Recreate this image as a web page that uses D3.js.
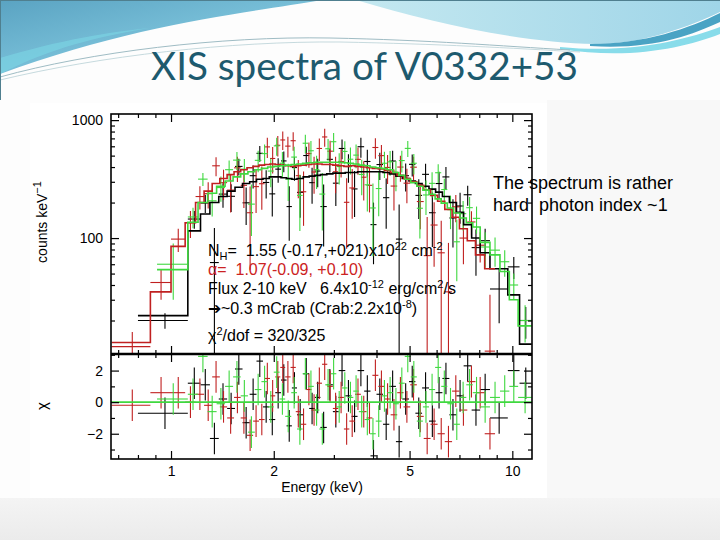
<!DOCTYPE html>
<html><head><meta charset="utf-8">
<script src="https://cdn.jsdelivr.net/npm/d3@7"></script>
<style>body{margin:0;background:#fff}svg{display:block}</style>
</head><body><svg id="c" width="720" height="540"></svg>
<script>
// ---------- DATA (energies in keV, rates in counts/keV) ----------
const blackEdges = [0.80,1.12,1.22,1.30,1.38,1.46,1.54,1.62,1.70,1.78,1.86,1.94,2.02,2.10,2.18,2.26,2.34,2.44,2.54,2.64,2.74,2.86,2.98,3.10,3.24,3.38,3.52,3.68,3.84,4.00,4.18,4.36,4.56,4.76,4.98,5.20,5.44,5.70,5.96,6.24,6.54,6.86,7.20,7.60,8.05,8.60,9.70,10.5,11.4];
const blackModel = [22,115,160,200,225,250,270,290,300,315,320,330,330,325,320,315,320,330,335,340,345,350,355,355,360,360,365,365,365,365,360,350,335,320,305,290,275,260,245,225,200,165,130,100,75,55,33,12.6];
const blackRate = [20,145,198,62,236,226,405,199,338,523,296,237,384,451,185,396,244,501,295,370,185,465,292,575,404,261,595,446,130,420,220,450,98,338,422,230,347,164,290,330,148,187,233,83,95,37,57,20];
const blackErr = [3,25,35,60,55,60,65,70,75,80,80,85,90,90,90,90,95,95,100,100,100,105,105,110,110,110,115,115,70,110,100,100,95,90,90,85,80,80,75,70,65,55,45,35,25,18,12,6];
const blackChi = [-0.7,1.2,1.1,-2.3,0.2,-0.4,2.1,-1.3,0.5,2.6,-0.3,-1.1,0.6,1.4,-1.5,0.9,-0.8,1.8,-0.4,0.3,-1.6,1.1,-0.6,2.0,0.4,-0.9,2.0,0.7,-3.4,0.5,-1.4,1.0,-2.5,0.2,1.3,-0.7,0.9,-1.2,0.6,1.5,-0.8,0.4,2.3,-0.5,0.8,-1.0,2.0,1.2];

const redEdges = [0.67,0.87,1.00,1.10,1.18,1.25,1.32,1.39,1.46,1.53,1.60,1.67,1.74,1.81,1.88,1.95,2.02,2.09,2.16,2.24,2.32,2.40,2.49,2.58,2.67,2.77,2.87,2.98,3.09,3.21,3.33,3.46,3.60,3.74,3.89,4.05,4.22,4.40,4.60,4.80,5.02,5.25,5.50,5.76,6.04,6.34,6.66,7.00,7.38,7.80,8.30,8.90];
const redModel = [13,35,85,135,200,250,290,320,345,365,380,395,405,415,420,425,420,415,410,405,410,415,420,425,425,420,420,415,410,405,410,405,400,395,390,385,375,360,340,320,300,280,255,230,205,175,150,120,95,72,55];
const redRate = [12,42,98,135,225,238,410,295,255,394,280,164,273,289,593,473,612,679,602,669,338,247,520,363,575,720,545,365,446,201,266,465,328,280,586,500,397,276,400,292,399,204,71,129,75,35,184,100,137,87,11];
const redErr = [4,12,22,35,50,60,75,85,90,95,100,110,110,115,115,120,120,120,120,120,120,120,125,125,125,125,125,125,120,120,120,120,120,115,115,115,110,105,100,95,90,85,80,72,65,56,48,40,32,25,22];
const redChi = [-0.2,0.6,0.6,0.0,0.5,-0.2,1.6,-0.3,-1.0,0.3,-1.0,-2.1,-1.2,-1.1,1.5,0.4,1.6,2.2,1.6,2.2,-0.6,-1.4,0.8,-0.5,1.2,2.4,1.0,-0.4,0.3,-1.7,-1.2,0.5,-0.6,-1.0,1.7,1.0,0.2,-0.8,0.6,-0.3,1.1,-0.9,-2.3,-1.4,-2.0,-2.5,0.7,-0.5,1.3,0.6,-2.0];

const greenEdges = [0.91,1.12,1.20,1.28,1.36,1.44,1.52,1.60,1.68,1.76,1.84,1.92,2.00,2.08,2.16,2.25,2.34,2.43,2.52,2.62,2.72,2.83,2.94,3.05,3.17,3.29,3.42,3.55,3.69,3.83,3.98,4.14,4.30,4.47,4.65,4.84,5.04,5.25,5.47,5.70,5.94,6.19,6.45,6.73,7.02,7.33,7.66,8.05,8.60,9.20,9.80,10.4,11.4];
const greenModel = [54,136,200,240,275,305,330,350,365,380,390,400,405,410,415,420,425,430,435,440,440,440,440,440,435,430,425,415,410,400,395,388,380,360,340,315,295,275,255,235,215,198,180,163,148,135,124,92,72,52,30,18];
const greenRate = [60,151,316,207,268,380,458,384,194,456,520,370,605,431,316,486,230,637,550,380,236,572,656,404,543,466,505,346,283,180,263,431,443,350,454,576,431,179,232,291,358,258,174,93,161,181,147,84,79,63,40,20];
const greenErr = [30,30,40,55,65,75,80,85,90,95,100,100,105,105,110,110,115,115,115,120,120,120,120,120,120,120,115,115,115,110,110,108,105,100,95,90,85,80,75,70,65,60,55,50,45,42,38,28,22,16,10,7];
const greenChi = [0.2,0.5,2.9,-0.6,-0.1,1.0,1.6,0.4,-1.9,0.8,1.3,-0.3,1.9,0.2,-0.9,0.6,-1.7,1.8,1.0,-0.5,-1.7,1.1,1.8,-0.3,0.9,0.3,0.7,-0.6,-1.1,-2.0,-1.2,0.4,0.6,-0.1,1.2,2.9,1.6,-1.2,-0.3,0.8,2.2,1.0,-0.1,-1.4,0.3,1.1,0.6,-0.3,0.3,0.7,1.0,0.3];

const xMajorTicks = [1, 2, 5, 10];
const xMinorTicks = [0.7, 0.8, 0.9, 3, 4, 6, 7, 8, 9];
const yMajorTicks = [100, 1000];
const yMinorTicks = [20, 30, 40, 50, 60, 70, 80, 90, 200, 300, 400, 500, 600, 700, 800, 900];
const chiMajorTicks = [-2, 0, 2];
const chiMinorTicks = [-3, -1, 1, 3];

const titleText = "XIS spectra of V0332+53";
const sideText = ["The spectrum is rather", "hard  photon index ~1"];

// ---------- SETUP ----------
const svg = d3.select("#c");
const FONT = "'Liberation Sans', Arial, Helvetica, sans-serif";
const defs = svg.append("defs");

const gl = defs.append("linearGradient").attr("id","gl").attr("x1",0).attr("y1",0).attr("x2",1).attr("y2",1);
gl.append("stop").attr("offset",0).attr("stop-color","#5aa3c2");
gl.append("stop").attr("offset",0.5).attr("stop-color","#78bfd8");
gl.append("stop").attr("offset",1).attr("stop-color","#94d3e6");
const gr = defs.append("linearGradient").attr("id","gr").attr("x1",0).attr("y1",0).attr("x2",1).attr("y2",0);
gr.append("stop").attr("offset",0).attr("stop-color","#c4e8f0");
gr.append("stop").attr("offset",1).attr("stop-color","#9fd5e8");
const gb = defs.append("linearGradient").attr("id","gb").attr("x1",0).attr("y1",0).attr("x2",0).attr("y2",1);
gb.append("stop").attr("offset",0).attr("stop-color","#f4f4f4");
gb.append("stop").attr("offset",1).attr("stop-color","#ebebeb");

// slide background
svg.append("rect").attr("width",720).attr("height",540).attr("fill","#fdfdfd");
svg.append("rect").attr("x",547).attr("y",100).attr("width",173).attr("height",398).attr("fill","#f8f8f8");
svg.append("rect").attr("y",498).attr("width",720).attr("height",42).attr("fill","url(#gb)");
// swooshes
svg.append("path").attr("d","M0,0 L322,0 C255,12 140,22 0,74 Z").attr("fill","url(#gl)");
svg.append("path").attr("d","M0,58 C60,40 110,32 150,28 C100,36 50,48 0,74 Z").attr("fill","#7ad3e3").attr("opacity",0.7);
svg.append("path").attr("d","M356,0 L720,0 L720,12 C690,26 645,44 595,44 C520,43 430,22 356,0 Z").attr("fill","url(#gr)");
svg.append("path").attr("d","M590,44 C645,44 690,28 720,13 L720,22 C690,36 650,50 590,46 Z").attr("fill","#4aa3c4");
svg.append("path").attr("d","M560,47 C630,54 685,40 720,27 L720,34 C684,48 630,60 560,49 Z").attr("fill","#88dcea");
svg.append("path").attr("d","M0,77 C90,52 220,36 330,38 C430,40 500,46 570,50").attr("fill","none").attr("stroke","#9fbcc4").attr("stroke-width",1);
svg.append("path").attr("d","M0,80 C100,56 230,41 340,42 C440,44 510,48 580,52").attr("fill","none").attr("stroke","#b8d0d6").attr("stroke-width",0.8);
svg.append("line").attr("x1",0).attr("y1",0.5).attr("x2",720).attr("y2",0.5).attr("stroke","#4f7f8f");
svg.append("line").attr("x1",0.5).attr("y1",0).attr("x2",0.5).attr("y2",100).attr("stroke","#4f7f8f");

// title
const title = svg.append("text").attr("x",364.5).attr("y",80).attr("text-anchor","middle")
  .attr("font-family","Lato, 'Open Sans', sans-serif").attr("font-size",36).attr("fill","#1d5a6e").text(titleText);
const tl = title.node().getComputedTextLength();
title.attr("font-size", 36*427/tl);

// chart image background
svg.append("rect").attr("x",30).attr("y",103).attr("width",517).attr("height",395).attr("fill","#ffffff");

// scales
const x = d3.scaleLog().domain([0.667, 11.42]).range([111, 532]);
const yU = d3.scaleLog().domain([10.4, 1127]).range([354, 114]);
const yL = d3.scaleLinear().domain([-3.6, 3.05]).range([459, 354]);

defs.append("clipPath").attr("id","cu").append("rect").attr("x",111).attr("y",114).attr("width",421).attr("height",240);
defs.append("clipPath").attr("id","cl").append("rect").attr("x",111).attr("y",354).attr("width",421).attr("height",105);

const upper = svg.append("g").attr("clip-path","url(#cu)");
const lower = svg.append("g").attr("clip-path","url(#cl)");

const series = [
  {edges: blackEdges, rate: blackRate, err: blackErr, model: blackModel, chi: blackChi, color: "#000000"},
  {edges: redEdges, rate: redRate, err: redErr, model: redModel, chi: redChi, color: "#c02020"},
  {edges: greenEdges, rate: greenRate, err: greenErr, model: greenModel, chi: greenChi, color: "#3fd83f"}
];
series.forEach(s => {
  s.bins = d3.range(s.rate.length).map(i => ({lo: s.edges[i], hi: s.edges[i+1], r: s.rate[i], e: s.err[i], m: s.model[i], c: s.chi[i]}));
});

// data crosses
series.forEach(s => {
  const g = upper.append("g").attr("stroke", s.color).attr("stroke-width",1.1);
  g.append("g").selectAll("line").data(s.bins).join("line")
    .attr("x1", d => x(d.lo)).attr("x2", d => x(d.hi))
    .attr("y1", d => yU(d.r)).attr("y2", d => yU(d.r));
  g.append("g").selectAll("line").data(s.bins).join("line")
    .attr("x1", d => x((d.lo+d.hi)/2)).attr("x2", d => x((d.lo+d.hi)/2))
    .attr("y1", d => yU(Math.max(d.r - d.e, 1))).attr("y2", d => yU(d.r + d.e));
});
// model steps
series.forEach(s => {
  const pts = [];
  s.bins.forEach(d => { pts.push([x(d.lo), yU(d.m)]); pts.push([x(d.hi), yU(d.m)]); });
  upper.append("path").attr("d", d3.line()(pts)).attr("fill","none").attr("stroke", s.color).attr("stroke-width",1.6);
});
// residuals
series.forEach(s => {
  const g = lower.append("g").attr("stroke", s.color).attr("stroke-width",1.1);
  g.append("g").selectAll("line").data(s.bins).join("line")
    .attr("x1", d => x(d.lo)).attr("x2", d => x(d.hi))
    .attr("y1", d => yL(d.c)).attr("y2", d => yL(d.c));
  g.append("g").selectAll("line").data(s.bins).join("line")
    .attr("x1", d => x((d.lo+d.hi)/2)).attr("x2", d => x((d.lo+d.hi)/2))
    .attr("y1", d => yL(d.c - 1)).attr("y2", d => yL(d.c + 1));
});
lower.append("line").attr("x1",111).attr("x2",532).attr("y1",yL(0)).attr("y2",yL(0)).attr("stroke","#3fd83f").attr("stroke-width",1.6);

// axes
function styleAxis(g){ g.select(".domain").remove(); g.selectAll(".tick line").attr("stroke","#000").attr("stroke-width",1.2);
  g.selectAll("text").attr("font-family",FONT).attr("font-size",14).attr("fill","#000"); }
function ax(gen, tx, ty){ svg.append("g").attr("transform",`translate(${tx},${ty})`).call(gen).call(styleAxis); }
const none = () => "";
// upper panel
ax(d3.axisLeft(yU).tickValues(yMajorTicks).tickSize(-8).tickPadding(8).tickFormat(d3.format("d")), 111, 0);
ax(d3.axisLeft(yU).tickValues(yMinorTicks).tickSize(-4).tickFormat(none), 111, 0);
ax(d3.axisRight(yU).tickValues(yMajorTicks).tickSize(-8).tickFormat(none), 532, 0);
ax(d3.axisRight(yU).tickValues(yMinorTicks).tickSize(-4).tickFormat(none), 532, 0);
ax(d3.axisTop(x).tickValues(xMajorTicks).tickSize(-8).tickFormat(none), 0, 114);
ax(d3.axisTop(x).tickValues(xMinorTicks).tickSize(-4).tickFormat(none), 0, 114);
ax(d3.axisBottom(x).tickValues(xMajorTicks).tickSize(-8).tickFormat(none), 0, 354);
ax(d3.axisBottom(x).tickValues(xMinorTicks).tickSize(-4).tickFormat(none), 0, 354);
// lower panel
ax(d3.axisTop(x).tickValues(xMajorTicks).tickSize(-8).tickFormat(none), 0, 354);
ax(d3.axisTop(x).tickValues(xMinorTicks).tickSize(-4).tickFormat(none), 0, 354);
ax(d3.axisBottom(x).tickValues(xMajorTicks).tickSize(-8).tickPadding(7).tickFormat(d3.format("d")), 0, 459);
ax(d3.axisBottom(x).tickValues(xMinorTicks).tickSize(-4).tickFormat(none), 0, 459);
ax(d3.axisLeft(yL).tickValues(chiMajorTicks).tickSize(-8).tickPadding(8).tickFormat(d => d < 0 ? "\u2212" + Math.abs(d) : String(d)), 111, 0);
ax(d3.axisLeft(yL).tickValues(chiMinorTicks).tickSize(-4).tickFormat(none), 111, 0);
ax(d3.axisRight(yL).tickValues(chiMajorTicks).tickSize(-8).tickFormat(none), 532, 0);
ax(d3.axisRight(yL).tickValues(chiMinorTicks).tickSize(-4).tickFormat(none), 532, 0);

// frames
svg.append("rect").attr("x",111).attr("y",114).attr("width",421).attr("height",345).attr("fill","none").attr("stroke","#000").attr("stroke-width",1.6);
svg.append("line").attr("x1",111).attr("x2",532).attr("y1",354).attr("y2",354).attr("stroke","#000").attr("stroke-width",2.6);

// axis titles
const yt = svg.append("text").attr("transform","translate(47,222) rotate(-90)").attr("text-anchor","middle")
  .attr("font-family",FONT).attr("font-size",14).attr("fill","#000");
yt.append("tspan").text("counts keV");
yt.append("tspan").attr("dy",-6).attr("font-size",11).text("\u22121");
svg.append("text").attr("transform","translate(47,406) rotate(-90)").attr("text-anchor","middle")
  .attr("font-family",FONT).attr("font-size",15).attr("fill","#000").text("\u03c7");
svg.append("text").attr("x",322).attr("y",492).attr("text-anchor","middle")
  .attr("font-family",FONT).attr("font-size",14).attr("fill","#000").text("Energy (keV)");

// annotation
function rich(xp, yp, parts, color){
  const t = svg.append("text").attr("x",xp).attr("y",yp).attr("font-family",FONT).attr("font-size",16)
    .attr("fill",color).style("white-space","pre");
  let cur = 0;
  parts.forEach(([txt, kind]) => {
    const target = kind === "sup" ? -6 : kind === "sub" ? 4 : 0;
    t.append("tspan").attr("dy", target - cur).attr("font-size", kind ? 11 : 16).text(txt);
    cur = target;
  });
}
rich(208,256,[["N"],["H","sub"],["=  1.55 (-0.17,+021)x10"],["22","sup"],[" cm"],["-2","sup"]],"#000");
rich(208,275,[["\u03b1=  1.07(-0.09, +0.10)"]],"#cc2222");
rich(208,294,[["Flux 2-10 keV   6.4x10"],["-12","sup"],[" erg/cm"],["2","sup"],["/s"]],"#000");
rich(208,314,[["\u2794~0.3 mCrab (Crab:2.2x10"],["-8","sup"],[")"]],"#000");
rich(208,341,[["\u03c7"],["2","sup"],["/dof = 320/325"]],"#000");

// side text
sideText.forEach((s,i) => svg.append("text").attr("x",493).attr("y",189 + i*22)
  .attr("font-family",FONT).attr("font-size",18).attr("fill","#000").style("white-space","pre").text(s));
</script>
</body></html>
